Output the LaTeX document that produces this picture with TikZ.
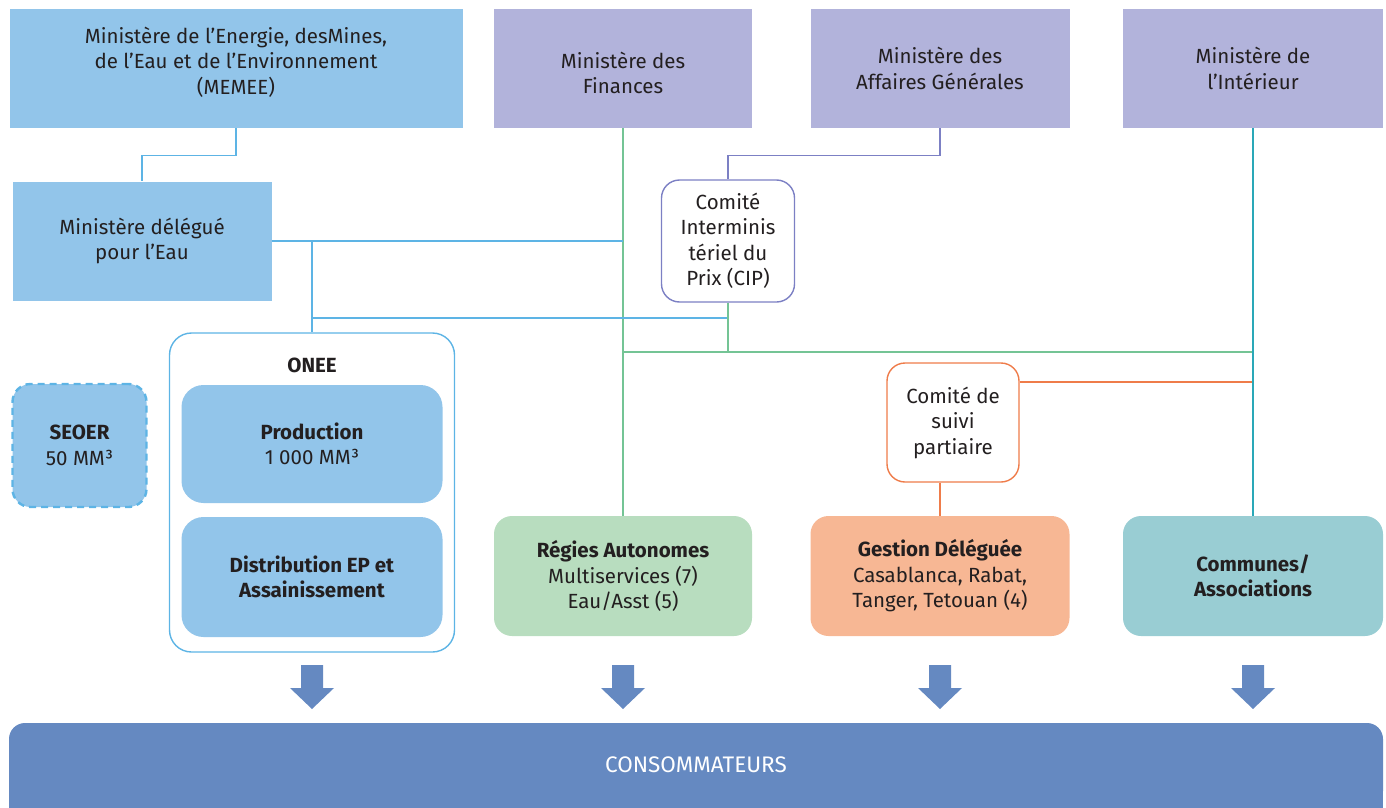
\documentclass[tikz,border=0pt]{standalone}
\usepackage{fontspec}
\setmainfont{Fira Sans}
\usetikzlibrary{calc}
\definecolor{lblue}{HTML}{92C5EA}
\definecolor{lav}{HTML}{B2B3DB}
\definecolor{rgreen}{HTML}{B8DDBF}
\definecolor{gorange}{HTML}{F7B794}
\definecolor{cteal}{HTML}{99CDD3}
\definecolor{consc}{HTML}{6589C1}
\definecolor{lnblue}{HTML}{5DB4E5}
\definecolor{lnpurple}{HTML}{7C80C4}
\definecolor{lngreen}{HTML}{74C495}
\definecolor{lnteal}{HTML}{2AA8B8}
\definecolor{lnorange}{HTML}{EF7C4A}
\definecolor{txtc}{HTML}{231F20}
\newcommand\fsz{\fontsize{20.5}{25.5}\selectfont}
\begin{document}
\begin{tikzpicture}[x=1pt,y=-1pt,
  box/.style={rectangle, inner sep=0pt, align=center, font=\fsz, text=txtc},
  txt/.style={inner sep=0pt, align=center, font=\fsz, text=txtc},
  rbox/.style={box, rounded corners=18pt},
  ln/.style={line width=1.4pt}]
\useasboundingbox (0,0) rectangle (1386,808);
% top row
\node[box, fill=lblue, minimum width=453pt, minimum height=119pt] (memee) at (236,68.5) {};
\node[txt] (memeet) at (236,62) {Ministère de l’Energie, desMines,\\de l’Eau et de l’Environnement\\(MEMEE)};
\node[box, fill=lav, minimum width=258pt, minimum height=119pt] (fin) at (623,68.5) {};
\node[txt] (fint) at (623,73) {Ministère des\\Finances};
\node[box, fill=lav, minimum width=259pt, minimum height=119pt] (aff) at (940,68.5) {Ministère des\\Affaires Générales};
\node[box, fill=lav, minimum width=260pt, minimum height=119pt] (int) at (1253,68.5) {Ministère de\\l’Intérieur};
% second row
\node[box, fill=lblue, minimum width=259pt, minimum height=119pt] (deleg) at (142,241) {Ministère délégué\\pour l’Eau};
\node[rbox, draw=lnpurple, ln, fill=white, minimum width=133pt, minimum height=122pt] (cip) at (728,241) {Comité\\Interminis\\tériel du\\Prix (CIP)};
% ONEE
\node[box, rounded corners=22pt, draw=lnblue, ln, fill=white, minimum width=285pt, minimum height=319pt] (onee) at (312,492.5) {};
\node[txt, font=\fsz\bfseries] (oneet) at (312,365) {ONEE};
\node[box, rounded corners=22pt, fill=lblue, minimum width=261pt, minimum height=118pt] (prod) at (312,444) {\textbf{Production}\\1 000 MM³};
\node[box, rounded corners=22pt, fill=lblue, minimum width=261pt, minimum height=120pt] (distrib) at (312,577) {\textbf{Distribution EP et}\\\textbf{Assainissement}};
\node[rbox, fill=lblue, draw=lnblue, line width=2.4pt, dash pattern=on 7pt off 5pt, minimum width=134pt, minimum height=123pt] (seoer) at (79.5,445.5) {\textbf{SEOER}\\50 MM³};
% bottom operators
\node[rbox, fill=rgreen, minimum width=258pt, minimum height=120pt] (regies) at (623,576) {\textbf{Régies Autonomes}\\Multiservices (7)\\Eau/Asst (5)};
\node[rbox, fill=gorange, minimum width=259pt, minimum height=120pt] (gestion) at (940,576) {\textbf{Gestion Déléguée}\\Casablanca, Rabat,\\Tanger, Tetouan (4)};
\node[rbox, fill=cteal, minimum width=260pt, minimum height=120pt] (communes) at (1253,576) {\textbf{Communes/}\\\textbf{Associations}};
\node[rbox, draw=lnorange, ln, fill=white, minimum width=132pt, minimum height=119pt] (suivi) at (953,422.5) {Comité de\\suivi\\partiaire};
% consumers bar
\coordinate (cbl) at (9,765);
\coordinate (cbr) at (1383,808);
\fill[consc] (cbl) rectangle (cbr);
\node[box, rounded corners=16pt, fill=consc, minimum width=1374pt, minimum height=84pt, text=white, font=\fontsize{22.5}{26}\selectfont] (conso) at (696,765) {CONSOMMATEURS};
% connectors
\draw[ln, lnblue] (memee.south) -- ++(0,27) -| (deleg.north);
\draw[ln, lnpurple] (aff.south) -- ++(0,27) -| (cip.north);
\coordinate (jblue) at (0,318);
\coordinate (jgreen) at (0,352);
\coordinate (jorange) at (0,382);
\draw[ln, lngreen] (fin.south) -- (regies.north);
\draw[ln, lnblue] (deleg.east) -- (deleg.east -| fin.south);
\draw[ln, lnblue] (deleg.east -| onee.north) -- (onee.north);
\draw[ln, lnblue] (onee.north |- jblue) -- (cip.south |- jblue);
\draw[ln, lngreen] (cip.south) -- (cip.south |- jgreen);
\draw[ln, lngreen] (fin.south |- jgreen) -- (int.south |- jgreen);
\draw[ln, lnorange] (suivi.east |- jorange) -- (int.south |- jorange);
\draw[ln, lnorange] (suivi.south -| gestion.north) -- (gestion.north);
\draw[ln, lnteal] (int.south) -- (communes.north);
% block arrows
\foreach \n in {onee, regies, gestion, communes}{
  \path (\n.south) coordinate (a\n);
  \fill[consc] ($(a\n |- 0,665)+(-11,0)$) -- ++(22,0) -- ++(0,23) -- ++(11,0) -- ($(a\n |- 0,709)$) -- ($(a\n |- 0,688)+(-22,0)$) -- ++(11,0) -- cycle;
}
\end{tikzpicture}
\end{document}
